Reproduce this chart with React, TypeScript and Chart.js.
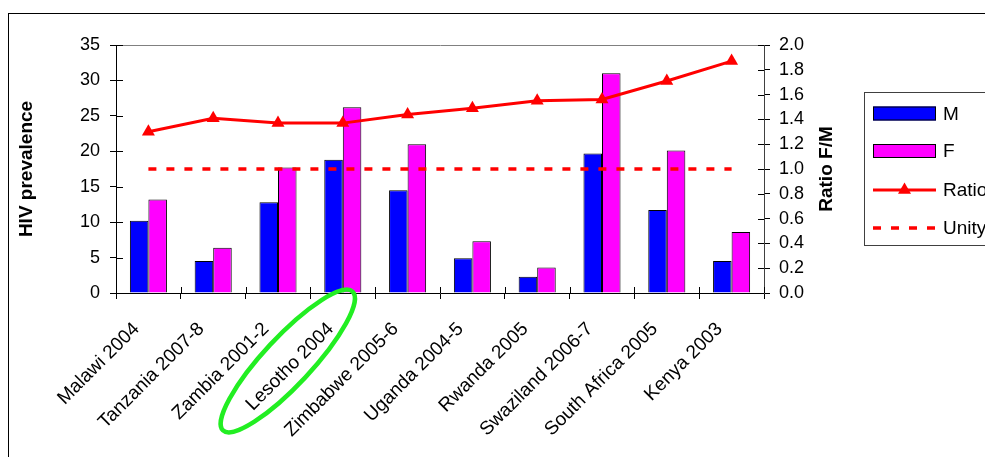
import React, { useEffect, useRef } from 'react';
import { Chart, registerables } from 'chart.js';

Chart.register(...registerables);

const categories = [
  'Malawi 2004',
  'Tanzania 2007-8',
  'Zambia 2001-2',
  'Lesotho 2004',
  'Zimbabwe 2005-6',
  'Uganda 2004-5',
  'Rwanda 2005',
  'Swaziland 2006-7',
  'South Africa 2005',
  'Kenya 2003',
];
const maleValues = [10.2, 4.5, 12.8, 18.8, 14.5, 4.9, 2.3, 19.7, 11.7, 4.5];
const femaleValues = [13.2, 6.4, 17.7, 26.2, 21.0, 7.3, 3.6, 31.0, 20.1, 8.6];
const ratioValues = [1.3, 1.41, 1.37, 1.37, 1.44, 1.49, 1.55, 1.56, 1.71, 1.87];
const unityValues = [1, 1, 1, 1, 1, 1, 1, 1, 1, 1];
const leftAxisRange = [0, 35];
const leftAxisStep = 5;
const rightAxisRange = [0, 2];
const rightAxisStep = 0.2;
const leftTitle = 'HIV prevalence';
const rightTitle = 'Ratio F/M';
const highlightedCategory = 'Lesotho 2004';

const FONT = "'Liberation Sans', Arial, sans-serif";

const decorPlugin = {
  id: 'decor',
  beforeDraw(chart: any) {
    const ctx = chart.ctx;
    ctx.save();
    ctx.fillStyle = '#ffffff';
    ctx.fillRect(0, 0, chart.width, chart.height);
    ctx.strokeStyle = '#000000';
    ctx.lineWidth = 1;
    ctx.strokeRect(8.5, 13.5, 1400, 900);
    ctx.restore();
  },
  afterDraw(chart: any) {
    const ctx = chart.ctx;
    const { left, right, top, bottom } = chart.chartArea;
    const xs = chart.scales.x;
    const ys = chart.scales.y;
    const y1 = chart.scales.y1;
    ctx.save();
    // inner halves of tick marks
    ctx.strokeStyle = '#000';
    ctx.lineWidth = 1;
    ctx.beginPath();
    ys.ticks.forEach((_t: any, i: number) => {
      const p = Math.round(ys.getPixelForTick(i)) + 0.5;
      ctx.moveTo(left, p);
      ctx.lineTo(left + 7, p);
    });
    y1.ticks.forEach((_t: any, i: number) => {
      const p = Math.round(y1.getPixelForTick(i)) + 0.5;
      ctx.moveTo(right, p);
      ctx.lineTo(right - 6, p);
    });
    const n = categories.length;
    for (let i = 0; i <= n; i++) {
      const px = Math.round(left + ((right - left) * i) / n) + 0.5;
      ctx.moveTo(px, bottom);
      ctx.lineTo(px, bottom - 6);
    }
    ctx.stroke();

    // right axis title, reading bottom-to-top
    ctx.save();
    ctx.translate(827, (top + bottom) / 2);
    ctx.rotate(-Math.PI / 2);
    ctx.font = `bold 19px ${FONT}`;
    ctx.fillStyle = '#000';
    ctx.textAlign = 'center';
    ctx.textBaseline = 'middle';
    ctx.fillText(rightTitle, 0, 0);
    ctx.restore();

    // green highlight ellipse around a category label
    const idx = categories.indexOf(highlightedCategory);
    if (idx >= 0) {
      const cx = xs.getPixelForValue(idx) - 55;
      const cy = bottom + 68;
      ctx.beginPath();
      ctx.ellipse(cx, cy, 95, 24, (-47 * Math.PI) / 180, 0, Math.PI * 2);
      ctx.strokeStyle = '#22ee22';
      ctx.lineWidth = 4.5;
      ctx.stroke();
    }

    // legend
    const lx = 864.5;
    const ly = 92.5;
    ctx.strokeStyle = '#404040';
    ctx.lineWidth = 1;
    ctx.strokeRect(lx, ly, 200, 153);
    const ds = chart.data.datasets;
    const rows = [113.5, 151, 190, 228];
    ctx.font = `19px ${FONT}`;
    ctx.textBaseline = 'middle';
    ctx.textAlign = 'left';
    ds.forEach((d: any, r: number) => {
      const yy = rows[r];
      if (d.type === 'bar') {
        ctx.fillStyle = d.backgroundColor;
        ctx.fillRect(873, yy - 7, 63, 14);
        ctx.strokeStyle = '#000';
        ctx.lineWidth = 1;
        ctx.strokeRect(873.5, yy - 6.5, 62, 13);
      } else {
        ctx.strokeStyle = d.borderColor;
        ctx.lineWidth = d.borderWidth;
        ctx.setLineDash(d.borderDash || []);
        ctx.beginPath();
        ctx.moveTo(873, yy);
        ctx.lineTo(936, yy);
        ctx.stroke();
        ctx.setLineDash([]);
        if (d.pointRadius > 0) {
          const r0 = d.pointRadius;
          const cx = 904.5;
          ctx.fillStyle = d.pointBackgroundColor;
          ctx.beginPath();
          ctx.moveTo(cx, yy - r0);
          ctx.lineTo(cx + r0 * Math.sin((2 * Math.PI) / 3), yy - r0 * Math.cos((2 * Math.PI) / 3));
          ctx.lineTo(cx + r0 * Math.sin((4 * Math.PI) / 3), yy - r0 * Math.cos((4 * Math.PI) / 3));
          ctx.closePath();
          ctx.fill();
        }
      }
      ctx.fillStyle = '#000';
      ctx.fillText(d.label, 943, yy + 1);
    });
    ctx.restore();
  },
};

export default function App() {
  const canvasRef = useRef<HTMLCanvasElement | null>(null);

  useEffect(() => {
    const canvas = canvasRef.current;
    if (!canvas) return;
    const chart = new Chart(canvas, {
      type: 'bar',
      data: {
        labels: categories,
        datasets: [
          {
            type: 'bar',
            label: 'M',
            data: maleValues,
            backgroundColor: '#0000ff',
            borderColor: '#000000',
            borderWidth: 1,
            yAxisID: 'y',
            order: 2,
          },
          {
            type: 'bar',
            label: 'F',
            data: femaleValues,
            backgroundColor: '#ff00ff',
            borderColor: '#000000',
            borderWidth: 1,
            yAxisID: 'y',
            order: 2,
          },
          {
            type: 'line',
            label: 'Ratio',
            data: ratioValues,
            borderColor: '#ff0000',
            backgroundColor: '#ff0000',
            borderWidth: 3,
            pointStyle: 'triangle',
            pointRadius: 7.5,
            pointBackgroundColor: '#ff0000',
            pointBorderWidth: 0,
            tension: 0,
            yAxisID: 'y1',
            order: 0,
          },
          {
            type: 'line',
            label: 'Unity',
            data: unityValues,
            borderColor: '#ff0000',
            borderWidth: 3.5,
            borderDash: [8, 10],
            pointRadius: 0,
            yAxisID: 'y1',
            order: 1,
          },
        ] as any,
      },
      options: {
        responsive: false,
        animation: false,
        events: [],
        layout: { padding: { left: 0, top: 45, right: 145, bottom: 0 } },
        datasets: {
          bar: { categoryPercentage: 0.572, barPercentage: 1.0 },
        } as any,
        plugins: {
          legend: { display: false },
          tooltip: { enabled: false },
        },
        scales: {
          x: {
            grid: { offset: true, drawOnChartArea: false, tickLength: 6, color: '#000' },
            border: { color: '#000', width: 1 },
            ticks: {
              autoSkip: false,
              minRotation: 45,
              maxRotation: 45,
              padding: 19,
              labelOffset: -12,
              color: '#000',
              font: { family: FONT, size: 19 },
            },
            afterFit: (s: any) => {
              s.height = 164;
              s.paddingLeft = 0;
              s.paddingRight = 0;
            },
          },
          y: {
            position: 'left',
            min: leftAxisRange[0],
            max: leftAxisRange[1],
            ticks: {
              stepSize: leftAxisStep,
              padding: 10,
              color: '#000',
              font: { family: FONT, size: 18 },
            },
            grid: {
              color: (c: any) => (c.tick && c.tick.value === leftAxisRange[1] ? '#808080' : 'rgba(0,0,0,0)'),
              tickColor: '#000',
              tickLength: 6,
              drawOnChartArea: true,
            },
            border: { color: '#000', width: 1 },
            title: {
              display: true,
              text: leftTitle,
              color: '#000',
              font: { family: FONT, size: 19, weight: 'bold' },
              padding: { top: 15, bottom: 0 },
            },
            afterFit: (s: any) => {
              s.width = 116;
            },
          },
          y1: {
            position: 'right',
            min: rightAxisRange[0],
            max: rightAxisRange[1],
            ticks: {
              stepSize: rightAxisStep,
              padding: 9,
              color: '#000',
              font: { family: FONT, size: 18 },
              callback: (v: any) => Number(v).toFixed(1),
            },
            grid: { drawOnChartArea: false, tickLength: 6, color: '#000' },
            border: { color: '#404040', width: 1 },
            afterFit: (s: any) => {
              s.width = 76;
            },
          },
        } as any,
      },
      plugins: [decorPlugin],
    });
    return () => chart.destroy();
  }, []);

  return (
    <div style={{ position: 'fixed', left: 0, top: 0, width: 985, height: 457, background: '#fff' }}>
      <canvas ref={canvasRef} width={985} height={457} style={{ display: 'block' }} />
    </div>
  );
}
